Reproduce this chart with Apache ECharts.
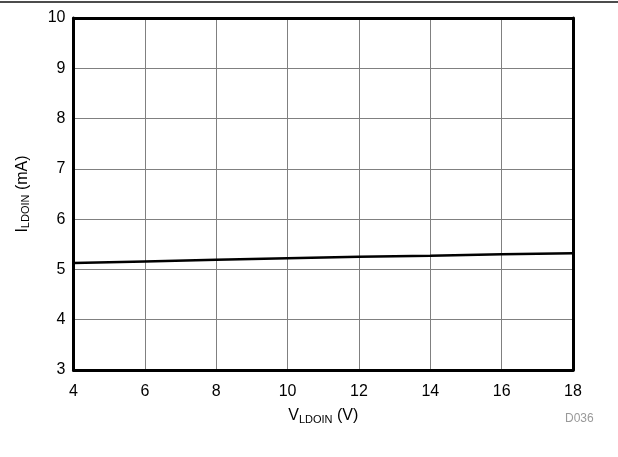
<!DOCTYPE html>
<html>
<head>
<meta charset="utf-8">
<script src="https://cdn.jsdelivr.net/npm/echarts@6/dist/echarts.min.js"></script>
<style>html,body{margin:0;padding:0;background:#fff}#c{width:618px;height:457px}</style>
</head>
<body>
<div id="c"></div>
<script>
const vIn = [4, 6, 8, 10, 12, 14, 16, 18];
const iLdoin = [5.13, 5.16, 5.19, 5.22, 5.25, 5.27, 5.30, 5.32];
const xTicks = [4, 6, 8, 10, 12, 14, 16, 18];
const yTicks = [3, 4, 5, 6, 7, 8, 9, 10];

const chart = echarts.init(document.getElementById('c'));
const font = 'Liberation Sans, Arial, sans-serif';
const frame = {show: true, lineStyle: {color: '#000', width: 3}};
chart.setOption({
  animation: false,
  grid: {left: 73.5, right: 45, top: 18, bottom: 87},
  xAxis: [{
    type: 'value', min: xTicks[0], max: xTicks[xTicks.length-1], interval: 2,
    axisLine: frame, axisTick: {show: false},
    splitLine: {show: true, showMinLine: false, showMaxLine: false, lineStyle: {color: '#808080', width: 1}},
    axisLabel: {color: '#000', fontSize: 16, fontFamily: font, margin: 14},
    name: 'V{s|LDOIN} (V)', nameLocation: 'middle', nameGap: 37,
    nameTextStyle: {color: '#000', fontSize: 16, fontFamily: font, rich: {s: {fontSize: 11, fontFamily: font, verticalAlign: 'bottom', padding: [7, 0, 0, 0]}}}
  }, {
    type: 'value', position: 'top', min: xTicks[0], max: xTicks[xTicks.length-1],
    axisLine: frame, axisTick: {show: false}, axisLabel: {show: false}, splitLine: {show: false}
  }],
  yAxis: [{
    type: 'value', min: yTicks[0], max: yTicks[yTicks.length-1], interval: 1,
    axisLine: frame, axisTick: {show: false},
    splitLine: {show: true, showMinLine: false, showMaxLine: false, lineStyle: {color: '#808080', width: 1}},
    axisLabel: {color: '#000', fontSize: 16, fontFamily: font, margin: 8},
    name: 'I{s|LDOIN} (mA)', nameLocation: 'middle', nameGap: 42, nameRotate: 90,
    nameTextStyle: {color: '#000', fontSize: 16, fontFamily: font, rich: {s: {fontSize: 11, fontFamily: font, verticalAlign: 'bottom', padding: [7, 0, 0, 0]}}}
  }, {
    type: 'value', position: 'right', min: yTicks[0], max: yTicks[yTicks.length-1],
    axisLine: frame, axisTick: {show: false}, axisLabel: {show: false}, splitLine: {show: false}
  }],
  series: [{
    type: 'line', data: vIn.map((v, i) => [v, iLdoin[i]]), showSymbol: false,
    lineStyle: {color: '#000', width: 2.5}, smooth: false
  }],
  graphic: [
    {type: 'line', shape: {x1: 0, y1: 2, x2: 618, y2: 2}, style: {stroke: '#111', lineWidth: 1.5}},
    {type: 'text', left: 565, top: 413, style: {text: 'D036', fill: '#999', fontSize: 12, fontFamily: font}}
  ]
});
</script>
</body>
</html>
